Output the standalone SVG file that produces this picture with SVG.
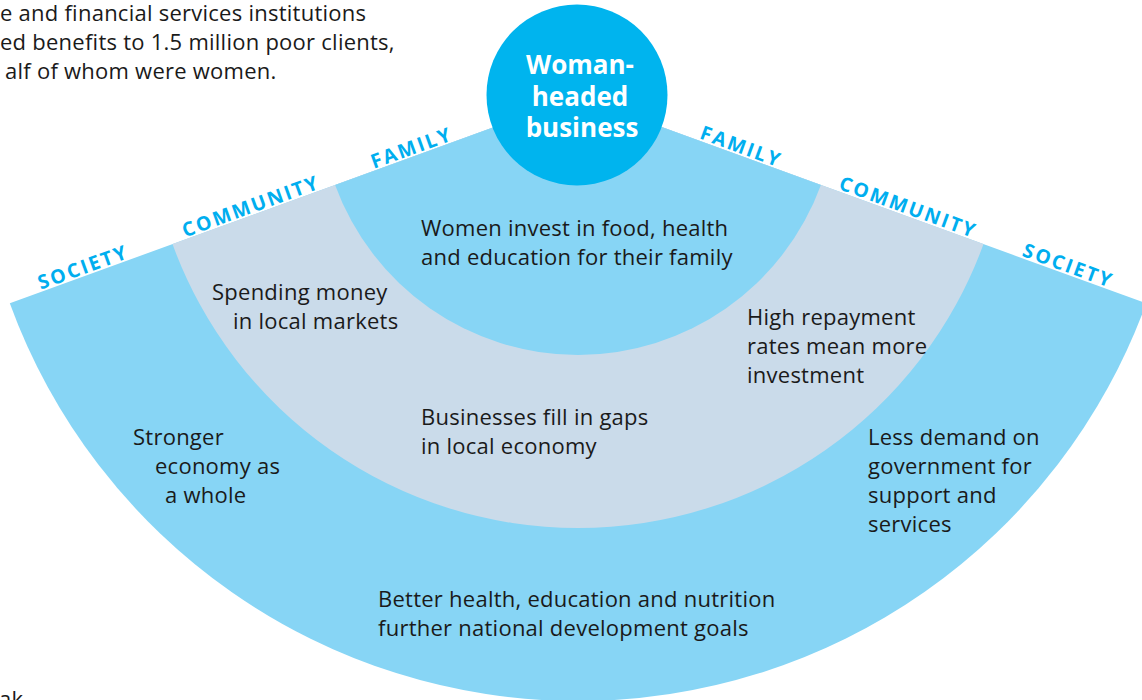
<svg xmlns="http://www.w3.org/2000/svg" width="1142" height="700" viewBox="0 0 1142 700">
<style>
.t{font-family:"Open Sans","Noto Sans",sans-serif;font-size:22px;letter-spacing:0.25px;fill:#1a1a1a}
.lbl{font-family:"Open Sans","Noto Sans",sans-serif;font-size:19.5px;font-weight:bold;fill:#00aeef;letter-spacing:2.2px;text-anchor:middle}
.ring{fill:#87d5f5}
.mid{fill:#cadbea}
.hub{font-family:"Open Sans","Noto Sans",sans-serif;font-size:26px;font-weight:bold;fill:#ffffff;text-anchor:middle}
</style>
<rect width="1142" height="700" fill="#ffffff"/>
<g id="intro">
<text class="t" x="0" y="20.5">e and financial services institutions</text>
<text class="t" x="0" y="49.5">ed benefits to 1.5 million poor clients,</text>
<text class="t" x="5" y="78.5">alf of whom were women.</text>
</g>
<g id="society">
<path class="ring" d="M578 96.5 L1146.2 303.3 A604.7 604.7 0 0 1 9.8 303.3 Z"/>
</g>
<g id="community">
<path class="mid" d="M578 96.5 L983.5 244.1 A431.5 431.5 0 0 1 172.5 244.1 Z"/>
</g>
<g id="family">
<path class="ring" d="M578 96.5 L820.9 184.9 A258.5 258.5 0 0 1 335.1 184.9 Z"/>
</g>
<g id="hub">
<circle cx="577" cy="95" r="90.5" fill="#00b4ee"/>
<text class="hub" x="580" y="74">Woman-</text>
<text class="hub" x="580" y="106">headed</text>
<text class="hub" x="582" y="137">business</text>
</g>
<g id="labels">
<text class="lbl" transform="translate(413.6 156.3) rotate(-20)" x="1" y="-2">FAMILY</text>
<text class="lbl" transform="translate(252.9 214.8) rotate(-20)" x="1" y="-2">COMMUNITY</text>
<text class="lbl" transform="translate(85.2 275.8) rotate(-20)" x="1" y="-2">SOCIETY</text>
<text class="lbl" transform="translate(737.3 154.5) rotate(20)" x="1" y="-2">FAMILY</text>
<text class="lbl" transform="translate(904.3 215.2) rotate(20)" x="1" y="-2">COMMUNITY</text>
<text class="lbl" transform="translate(1064.2 273.5) rotate(20)" x="1" y="-2">SOCIETY</text>
</g>
<g id="family-text">
<text class="t" x="421" y="236">Women invest in food, health</text>
<text class="t" x="421" y="265">and education for their family</text>
</g>
<g id="community-left">
<text class="t" x="212" y="300">Spending money</text>
<text class="t" x="233" y="329">in local markets</text>
</g>
<g id="community-right">
<text class="t" x="747" y="325">High repayment</text>
<text class="t" x="747" y="354">rates mean more</text>
<text class="t" x="747" y="383">investment</text>
</g>
<g id="community-bottom">
<text class="t" x="421" y="425">Businesses fill in gaps</text>
<text class="t" x="421" y="454">in local economy</text>
</g>
<g id="society-left">
<text class="t" x="133" y="445">Stronger</text>
<text class="t" x="155" y="474">economy as</text>
<text class="t" x="165" y="503">a whole</text>
</g>
<g id="society-right">
<text class="t" x="868" y="445">Less demand on</text>
<text class="t" x="868" y="474">government for</text>
<text class="t" x="868" y="503">support and</text>
<text class="t" x="868" y="532">services</text>
</g>
<g id="society-bottom">
<text class="t" x="378" y="607">Better health, education and nutrition</text>
<text class="t" x="378" y="636">further national development goals</text>
</g>
<g id="footer">
<text class="t" x="-1" y="707">ak</text>
</g>
<g id="connectors"></g>
</svg>
